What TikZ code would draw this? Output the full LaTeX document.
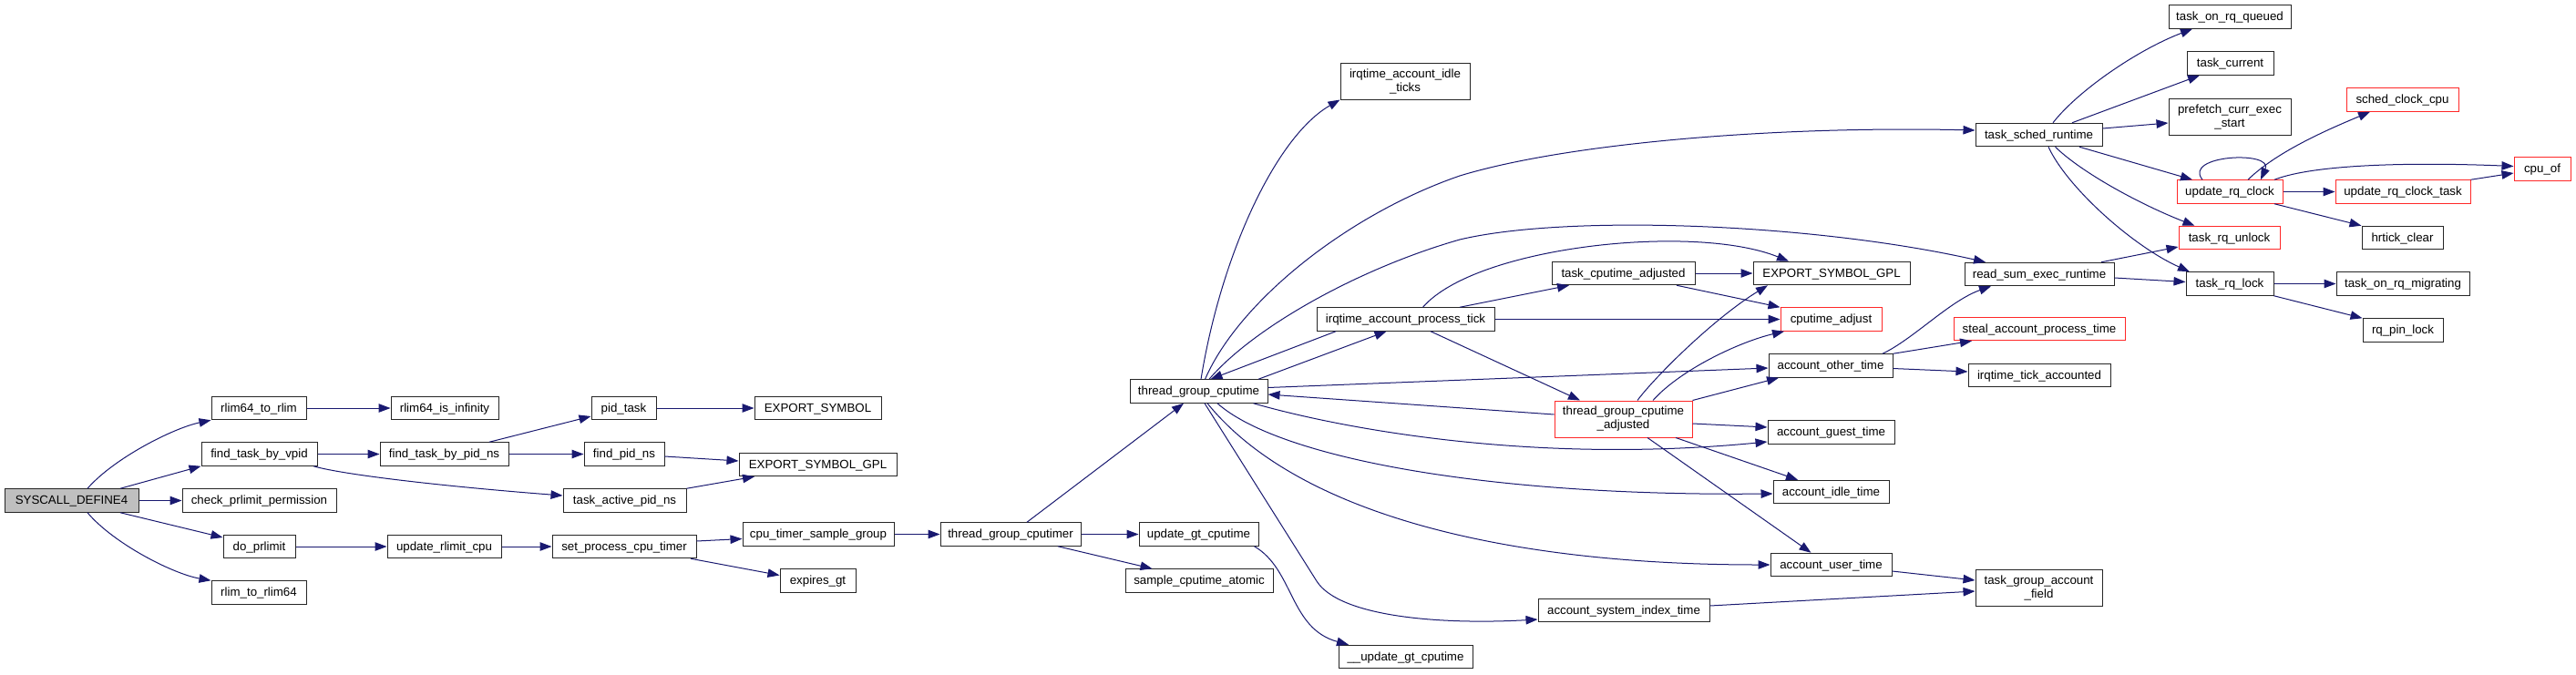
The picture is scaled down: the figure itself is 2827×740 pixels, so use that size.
\documentclass[tikz,border=0pt]{standalone}
\usepackage{fontspec}
\setmainfont{Liberation Sans}
\usetikzlibrary{arrows.meta}
\definecolor{edgeblue}{RGB}{25,25,112}
\definecolor{truncred}{RGB}{255,40,40}
\definecolor{rootgray}{RGB}{191,191,191}
\begin{document}
\begin{tikzpicture}[x=1pt,y=-1pt,
  fn/.style={draw=black!85,line width=1pt,fill=white,inner sep=0pt,minimum height=25.5pt,
    text height=9.5pt,text depth=1.5pt,font=\fontsize{13.3}{15}\selectfont},
  fn2/.style={draw=black!85,line width=1pt,fill=white,inner sep=0pt,minimum height=40pt,
    align=center,font=\fontsize{13.3}{15}\selectfont},
  trunc/.style={draw=truncred},
  root/.style={fill=rootgray},
  e/.style={draw=edgeblue,line width=1pt,-{Triangle[length=13pt,width=9.5pt]},fill=none}]
\fill[white] (0,0) rectangle (2827,740);
\useasboundingbox (0,0) rectangle (2827,740);
% nodes
\node[fn,root,minimum width=147pt] (syscall) at (78.5,549.5) {SYSCALL\_DEFINE4};
\node[fn,minimum width=104pt] (rtr) at (284,448) {rlim64\_to\_rlim};
\node[fn,minimum width=118pt] (rii) at (488,448) {rlim64\_is\_infinity};
\node[fn,minimum width=71pt] (pidtask) at (684.5,448) {pid\_task};
\node[fn,minimum width=139pt] (es) at (897.5,448) {EXPORT\_SYMBOL};
\node[fn,minimum width=127pt] (ftv) at (284.5,498.5) {find\_task\_by\_vpid};
\node[fn,minimum width=141pt] (ftp) at (487.5,498.5) {find\_task\_by\_pid\_ns};
\node[fn,minimum width=88pt] (fpn) at (685,498.5) {find\_pid\_ns};
\node[fn,minimum width=173pt] (esg1) at (897.5,510) {EXPORT\_SYMBOL\_GPL};
\node[fn,minimum width=169pt] (cpp) at (284.5,549.5) {check\_prlimit\_permission};
\node[fn,minimum width=135pt] (tap) at (685.5,549.5) {task\_active\_pid\_ns};
\node[fn,minimum width=79pt] (dop) at (284.5,600) {do\_prlimit};
\node[fn,minimum width=125pt] (urlc) at (487.5,600) {update\_rlimit\_cpu};
\node[fn,minimum width=158pt] (spct) at (685,600) {set\_process\_cpu\_timer};
\node[fn,minimum width=166pt] (ctsg) at (898,586.5) {cpu\_timer\_sample\_group};
\node[fn,minimum width=83pt] (egt) at (897.5,637.5) {expires\_gt};
\node[fn,minimum width=104pt] (rtr64) at (284,650.5) {rlim\_to\_rlim64};
\node[fn,minimum width=154pt] (tgcr) at (1109,586.5) {thread\_group\_cputimer};
\node[fn,minimum width=131pt] (ugc) at (1315.5,586.5) {update\_gt\_cputime};
\node[fn,minimum width=162pt] (sca) at (1316,637.5) {sample\_cputime\_atomic};
\node[fn,minimum width=151pt] (tgc) at (1315.5,429.5) {thread\_group\_cputime};
\node[fn,minimum width=147pt] (uugc) at (1542.5,721) {\_\_update\_gt\_cputime};
\node[fn2,minimum width=142pt] (iait) at (1542,89) {irqtime\_account\_idle\\\_ticks};
\node[fn,minimum width=195pt] (iapt) at (1542.5,350.5) {irqtime\_account\_process\_tick};
\node[fn,minimum width=188pt] (asit) at (1782,670) {account\_system\_index\_time};
\node[fn,minimum width=157pt] (tca) at (1781.5,300) {task\_cputime\_adjusted};
\node[fn2,trunc,minimum width=151pt] (tgca) at (1781.5,460) {thread\_group\_cputime\\\_adjusted};
\node[fn,minimum width=172pt] (esg2) at (2010,300) {EXPORT\_SYMBOL\_GPL};
\node[fn,trunc,minimum width=111pt] (ca) at (2009.5,350.5) {cputime\_adjust};
\node[fn,minimum width=136pt] (aot) at (2009,401.5) {account\_other\_time};
\node[fn,minimum width=139pt] (agt) at (2009.5,474.5) {account\_guest\_time};
\node[fn,minimum width=127pt] (aidle) at (2009.5,540) {account\_idle\_time};
\node[fn,minimum width=133pt] (aut) at (2009.5,620) {account\_user\_time};
\node[fn,minimum width=139pt] (tsr) at (2237.5,148) {task\_sched\_runtime};
\node[fn,minimum width=164pt] (rser) at (2238,301) {read\_sum\_exec\_runtime};
\node[fn,trunc,minimum width=188pt] (sapt) at (2238,361) {steal\_account\_process\_time};
\node[fn,minimum width=156pt] (ita) at (2238,412) {irqtime\_tick\_accounted};
\node[fn2,minimum width=139pt] (tgaf) at (2237.5,645) {task\_group\_account\\\_field};
\node[fn,minimum width=134pt] (toqq) at (2447,18.5) {task\_on\_rq\_queued};
\node[fn,minimum width=95pt] (tcur) at (2447.5,69.5) {task\_current};
\node[fn2,minimum width=134pt] (pces) at (2447,128) {prefetch\_curr\_exec\\\_start};
\node[fn,trunc,minimum width=116pt] (urc) at (2447,210.5) {update\_rq\_clock};
\node[fn,trunc,minimum width=111pt] (tru) at (2446.5,261) {task\_rq\_unlock};
\node[fn,minimum width=96pt] (trl) at (2447,311.5) {task\_rq\_lock};
\node[fn,trunc,minimum width=123pt] (scc) at (2636.5,109.5) {sched\_clock\_cpu};
\node[fn,trunc,minimum width=148pt] (urct) at (2637,210.5) {update\_rq\_clock\_task};
\node[fn,minimum width=89pt] (hrc) at (2636.5,261) {hrtick\_clear};
\node[fn,minimum width=146pt] (torm) at (2637,311.5) {task\_on\_rq\_migrating};
\node[fn,minimum width=88pt] (rqpl) at (2637,362.5) {rq\_pin\_lock};
\node[fn,trunc,minimum width=62pt] (cpuof) at (2790,185.5) {cpu\_of};
% edges
\draw[e] ([xshift=17.5pt]syscall.north) .. controls (125,503) and (190,470) .. (rtr.south west);
\draw[e] ([xshift=53.5pt]syscall.north) -- (ftv.south west);
\draw[e] (syscall.east) -- (cpp.west);
\draw[e] ([xshift=53.5pt]syscall.south) -- ([yshift=10pt]dop.west);
\draw[e] ([xshift=17.5pt]syscall.south) .. controls (125,597) and (190,630) .. (rtr64.north west);
\draw[e] (rtr.east) -- (rii.west);
\draw[e] (ftv.east) -- (ftp.west);
\draw[e] ([xshift=59.5pt]ftv.south) .. controls (380,522) and (500,535) .. ([yshift=5.5pt]tap.west);
\draw[e] ([xshift=49.5pt]ftp.north) -- ([yshift=-9pt]pidtask.west);
\draw[e] (ftp.east) -- (fpn.west);
\draw[e] (pidtask.east) -- (es.west);
\draw[e] ([yshift=-2.5pt]fpn.east) -- ([yshift=4pt]esg1.west);
\draw[e] (tap.north east) -- ([xshift=-69.5pt]esg1.south);
\draw[e] (dop.east) -- (urlc.west);
\draw[e] (urlc.east) -- (spct.west);
\draw[e] ([yshift=6pt]spct.east) -- ([yshift=-5pt]ctsg.west);
\draw[e] ([xshift=73pt]spct.south) -- ([yshift=6pt]egt.west);
\draw[e] (ctsg.east) -- (tgcr.west);
\draw[e] ([xshift=18pt]tgcr.north) -- ([xshift=-16.5pt]tgc.south);
\draw[e] (tgcr.east) -- (ugc.west);
\draw[e] ([xshift=52pt]tgcr.south) -- ([xshift=-51.5pt]sca.north);
\draw[e] ([xshift=-5pt]ugc.south east) .. controls (1420,625) and (1415,690) .. ([xshift=-62.5pt]uugc.north);
% thread_group_cputime
\draw[e] ([xshift=6.5pt]tgc.south) -- (1445,638) .. controls (1470,677) and (1580,686) .. ([yshift=-10pt]asit.west);
\draw[e] ([xshift=9.5pt]tgc.south) .. controls (1420,560) and (1640,620) .. (aut.west);
\draw[e] ([xshift=20.5pt]tgc.south) .. controls (1400,500) and (1620,545) .. ([yshift=-2pt]aidle.west);
\draw[e] ([xshift=60pt]tgc.south) .. controls (1470,470) and (1680,510) .. ([yshift=-10.5pt]agt.west);
\draw[e] ([yshift=4pt]tgc.east) -- ([yshift=-2.5pt]aot.west);
\draw[e] ([yshift=5pt]tgca.west) -- ([yshift=-3.5pt]tgc.east);
\draw[e] ([xshift=65.5pt]tgc.north) -- ([xshift=-21pt]iapt.south);
\draw[e] ([xshift=-76.5pt]iapt.south) -- ([xshift=13pt]tgc.north);
\draw[e] ([xshift=2.5pt]tgc.north) .. controls (1340,280) and (1400,150) .. (iait.south west);
\draw[e] ([xshift=7pt]tgc.north) .. controls (1360,330) and (1480,235) .. (1602,193) .. controls (1720,157) and (1950,138) .. ([yshift=5pt]tsr.west);
\draw[e] ([xshift=11.5pt]tgc.north) .. controls (1375,360) and (1490,295) .. (1602,263) .. controls (1720,235) and (1990,245) .. ([xshift=-59pt]rser.north);
% irqtime_account_process_tick etc.
\draw[e] ([xshift=59.5pt]iapt.north) -- ([xshift=-59.5pt]tca.south);
\draw[e] ([xshift=19pt]iapt.north) .. controls (1620,270) and (1860,245) .. ([xshift=-47pt]esg2.north);
\draw[e] (iapt.east) -- (ca.west);
\draw[e] (tca.east) -- (esg2.west);
\draw[e] ([xshift=58.5pt]tca.south) -- (ca.north west);
\draw[e] ([xshift=27.5pt]iapt.south) -- ([xshift=-47.5pt]tgca.north);
\draw[e] ([xshift=15.5pt]tgca.north) .. controls (1815,415) and (1880,350) .. ([xshift=-70pt]esg2.south);
\draw[e] ([xshift=32.5pt]tgca.north) .. controls (1845,405) and (1910,375) .. ([xshift=-51.5pt]ca.south);
\draw[e] (tgca.north east) -- ([xshift=-57pt]aot.south);
\draw[e] ([yshift=-5pt]tgca.east) -- ([yshift=5.5pt]agt.west);
\draw[e] ([xshift=57.5pt]tgca.south) -- ([xshift=-36.5pt]aidle.north);
\draw[e] ([xshift=26.5pt]tgca.south) -- ([xshift=-22pt]aut.north);
\draw[e] ([xshift=57pt]aot.north) .. controls (2100,372) and (2140,330) .. ([xshift=-53pt]rser.south);
\draw[e] (aot.north east) -- ([xshift=-74pt]sapt.south);
\draw[e] ([yshift=-3pt]aot.east) -- ([yshift=4pt]ita.west);
\draw[e] ([yshift=-7pt]aut.east) -- ([yshift=8pt]tgaf.west);
\draw[e] ([yshift=5pt]asit.east) -- ([yshift=-4pt]tgaf.west);
% right part
\draw[e] ([xshift=68pt]rser.north) -- ([yshift=-10pt]tru.west);
\draw[e] ([yshift=-4pt]rser.east) -- ([yshift=2pt]trl.west);
\draw[e] ([xshift=15.5pt]tsr.north) .. controls (2280,100) and (2345,55) .. ([xshift=-41pt]toqq.south);
\draw[e] ([xshift=36.5pt]tsr.north) -- ([xshift=-33.5pt]tcur.south);
\draw[e] ([yshift=7pt]tsr.east) -- ([yshift=-7pt]pces.west);
\draw[e] ([xshift=44.5pt]tsr.south) -- ([xshift=-41pt]urc.north);
\draw[e] ([xshift=18pt]tsr.south) .. controls (2285,190) and (2350,225) .. ([xshift=-38pt]tru.north);
\draw[e] ([xshift=10.5pt]tsr.south) .. controls (2268,205) and (2340,270) .. ([xshift=-44pt]trl.north);
\draw[e] ([xshift=-30pt]urc.north) .. controls (2395,170) and (2495,165) .. ([xshift=34pt]urc.north);
\draw[e] ([xshift=20pt]urc.north) .. controls (2500,165) and (2560,140) .. ([xshift=-35.5pt]scc.south);
\draw[e] ([xshift=49pt]urc.north) .. controls (2540,180) and (2650,178) .. ([yshift=3pt]cpuof.west);
\draw[e] (urc.east) -- (urct.west);
\draw[e] ([xshift=49pt]urc.south) -- (hrc.north west);
\draw[e] (urct.north east) -- ([yshift=-4.5pt]cpuof.west);
\draw[e] (trl.east) -- (torm.west);
\draw[e] (trl.south east) -- (rqpl.north west);
\end{tikzpicture}
\end{document}
